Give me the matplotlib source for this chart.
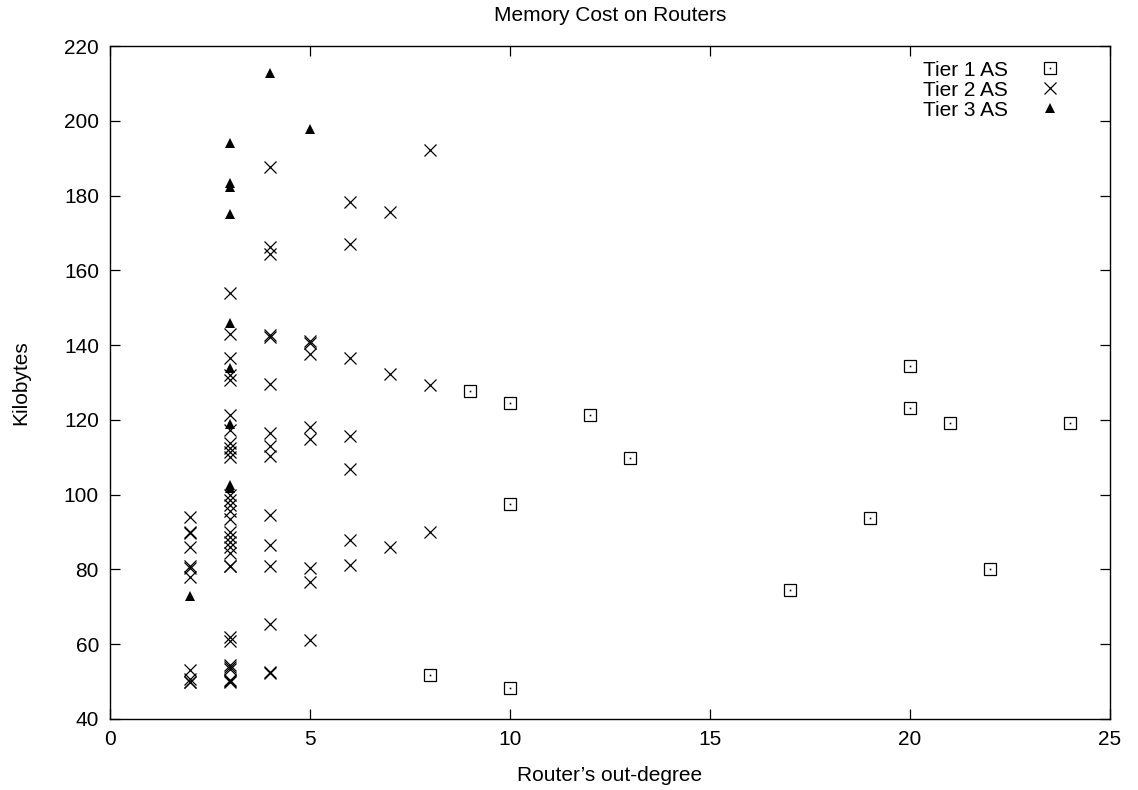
import matplotlib
matplotlib.use("Agg")
import matplotlib.pyplot as plt
from matplotlib.legend_handler import HandlerTuple

plt.rcParams["font.family"] = ["Liberation Sans", "DejaVu Sans"]
plt.rcParams["font.size"] = 15

# Tier 1 AS routers: out-degree vs memory (KB)
tier1_degree = [8, 9, 10, 10, 10, 12, 13, 17, 19, 20, 20, 21, 22, 24]
tier1_kb = [51.8, 127.8, 124.4, 97.5, 48.2, 121.3, 109.7, 74.4, 93.7,
            134.4, 123.3, 119.1, 80.1, 119.1]

# Tier 2 AS routers
tier2_degree = ([2] * 11 + [3] * 31 + [4] * 15 + [5] * 8 + [6] * 7
                + [7] * 3 + [8] * 3)
tier2_kb = [
    # degree 2
    94.0, 90.0, 89.7, 86.0, 81.0, 80.5, 78.0, 53.0, 50.8, 50.0, 49.8,
    # degree 3
    154.0, 143.0, 136.5, 132.0, 130.7, 121.3, 117.3, 113.7, 112.4, 111.5,
    110.2, 100.0, 98.6, 97.2, 95.5, 93.6, 90.0, 88.8, 87.4, 86.0, 84.3,
    81.0, 80.8, 62.0, 60.8, 54.5, 54.0, 53.5, 50.5, 50.2, 50.0,
    # degree 4
    187.7, 166.3, 164.3, 142.6, 142.2, 129.7, 116.4, 113.0, 110.3, 94.5,
    86.5, 81.0, 65.5, 52.6, 52.3,
    # degree 5
    141.0, 140.6, 137.5, 118.0, 115.0, 80.3, 76.7, 61.0,
    # degree 6
    178.2, 167.0, 136.5, 115.6, 106.8, 87.9, 81.2,
    # degree 7
    175.5, 132.2, 86.0,
    # degree 8
    192.3, 129.2, 89.9,
]

# Tier 3 AS routers
tier3_degree = [2, 3, 3, 3, 3, 3, 3, 3, 3, 3, 4, 5]
tier3_kb = [72.8, 194.0, 183.3, 182.4, 175.0, 146.0, 133.9, 118.9,
            102.5, 101.9, 212.7, 197.7]

fig = plt.figure(figsize=(11.38, 7.90), dpi=100)
ax = fig.add_axes([110 / 1138, 71 / 790, 1000 / 1138, 673 / 790])

sq = ax.plot(tier1_degree, tier1_kb, linestyle="none", marker="s",
             markersize=8.5, markerfacecolor="none", markeredgecolor="black",
             markeredgewidth=0.9)[0]
dot = ax.plot(tier1_degree, tier1_kb, linestyle="none", marker="s",
              markersize=1.2, color="black", markeredgewidth=0)[0]
xs = ax.plot(tier2_degree, tier2_kb, linestyle="none", marker="x",
             markersize=8.5, color="black", markeredgewidth=0.9)[0]
tri = ax.plot(tier3_degree, tier3_kb, linestyle="none", marker="^",
              markersize=7.5, color="black", markeredgewidth=0)[0]

ax.set_xlim(0, 25)
ax.set_ylim(40, 220)
ax.set_xticks(range(0, 26, 5))
ax.set_yticks(range(40, 221, 20))
ax.tick_params(direction="in", top=True, right=True, length=7, width=0.9,
               labelsize=15, pad=8)
for spine in ax.spines.values():
    spine.set_linewidth(1.0)

ax.set_title("Memory Cost on Routers", fontsize=15, pad=18)
ax.set_xlabel("Router\u2019s out-degree", fontsize=15, labelpad=12)
ax.set_ylabel("Kilobytes", fontsize=15, labelpad=24)

ax.legend([(sq, dot), xs, tri], ["Tier 1 AS", "Tier 2 AS", "Tier 3 AS"],
          handler_map={tuple: HandlerTuple(ndivide=1)},
          loc="upper right", bbox_to_anchor=(0.977, 1.003), frameon=False,
          markerfirst=False, handlelength=2.0, handletextpad=1.0,
          labelspacing=0.05, borderaxespad=0.4, fontsize=15)

fig.savefig("out.png", dpi=100)
